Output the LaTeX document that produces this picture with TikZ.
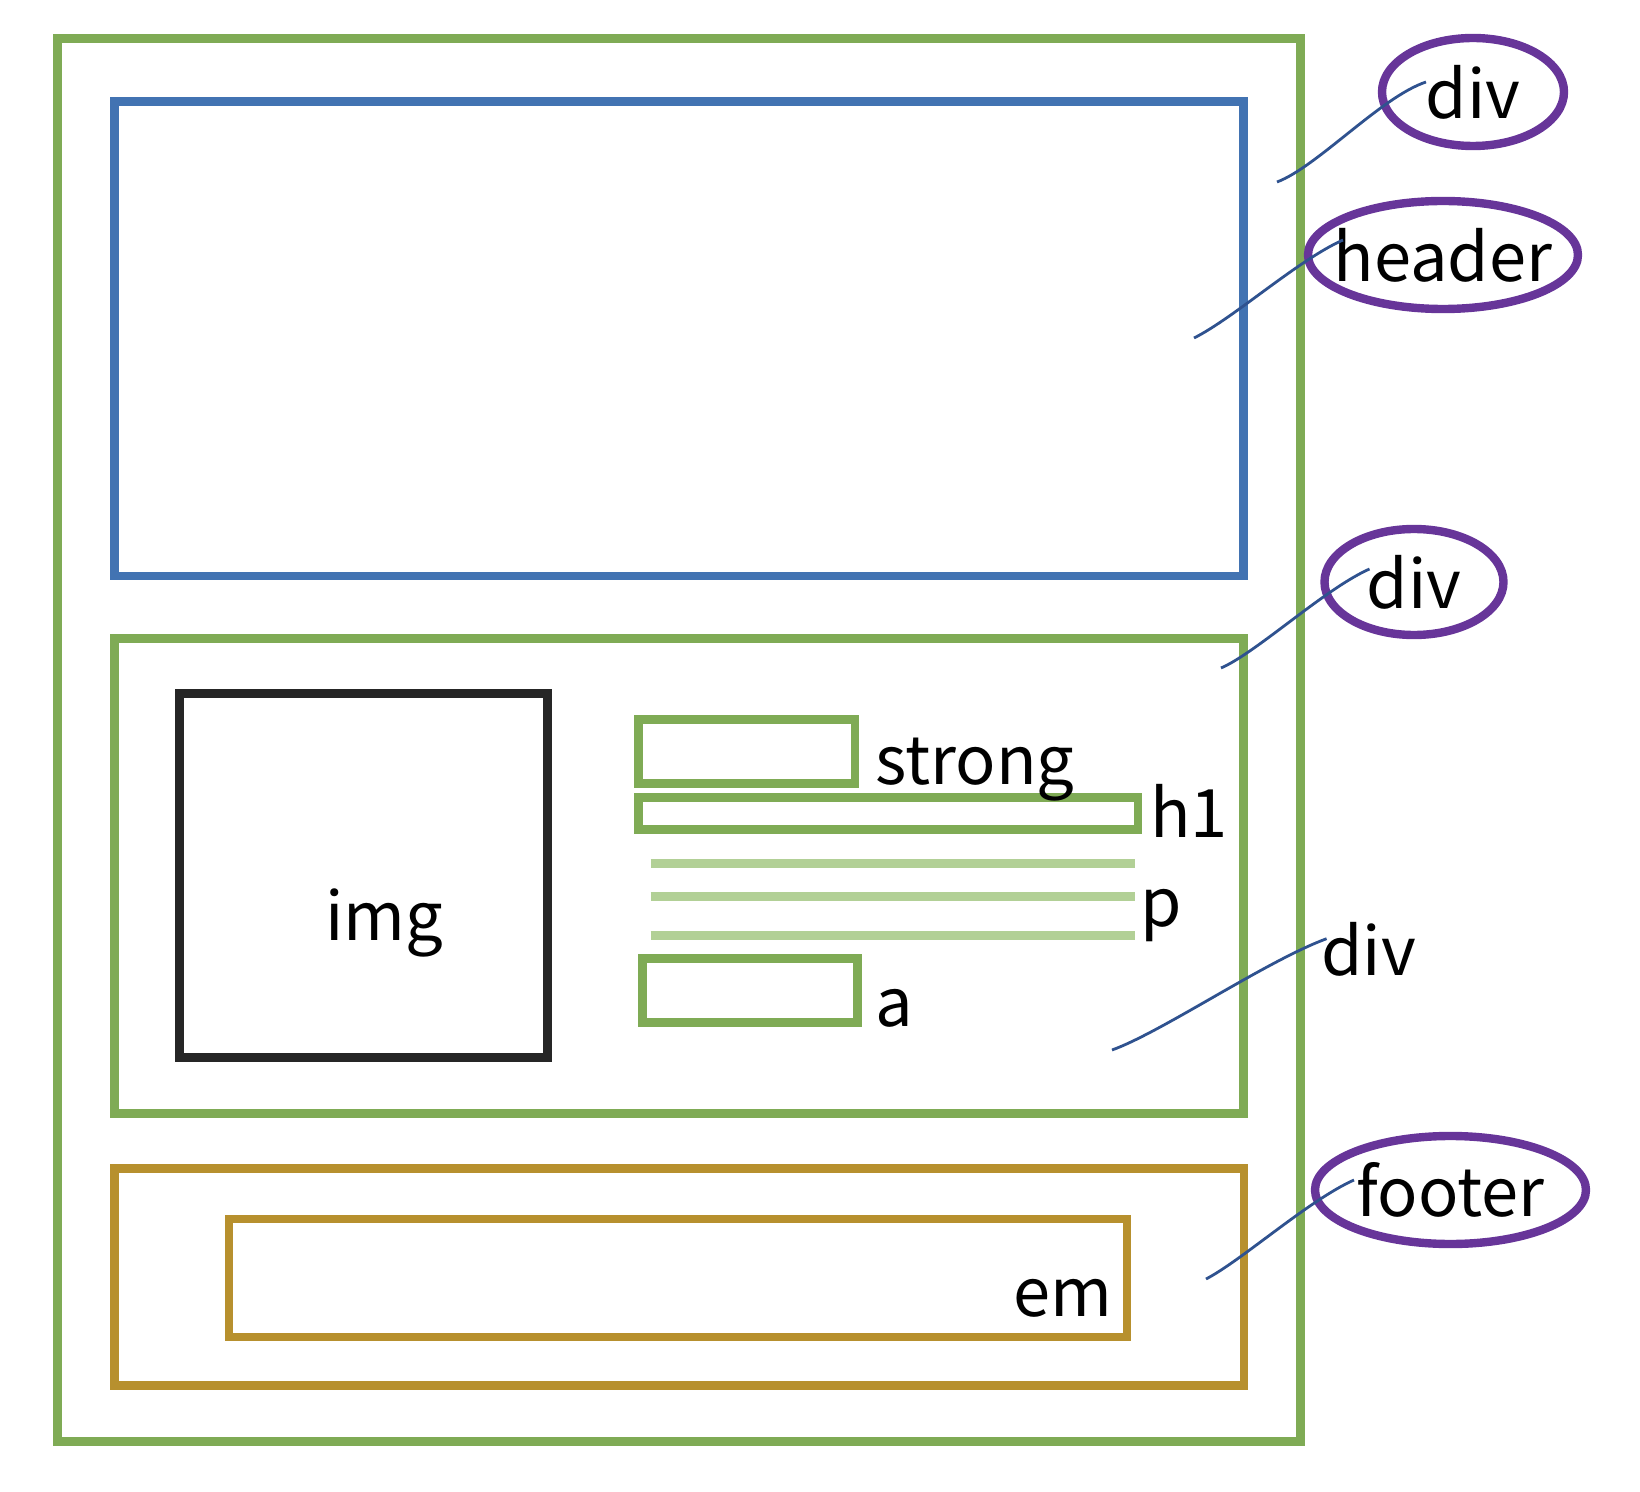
\documentclass[tikz,border=0pt]{standalone}
\usepackage{fontspec}
\setmainfont{Noto Sans CJK SC}
\usetikzlibrary{shapes.geometric}
\definecolor{boxgreen}{HTML}{7FAB55}
\definecolor{boxblue}{HTML}{4273B2}
\definecolor{boxgold}{HTML}{B7902E}
\definecolor{tagpurple}{HTML}{673599}
\definecolor{linegreen}{HTML}{B2D096}
\definecolor{leader}{HTML}{2F528F}
\definecolor{imgblack}{HTML}{262626}
\begin{document}
\begin{tikzpicture}[x=0.5pt,y=-0.5pt,
    box/.style={draw,line width=4.3pt,inner sep=0pt,rectangle},
    tag/.style={draw=tagpurple,line width=4.2pt,ellipse,inner sep=0pt,
      label={[font=\fontsize{33.4}{38}\selectfont,inner sep=0pt]center:#1}},
    lbl/.style={anchor=base west,inner sep=0pt,font=\fontsize{33.4}{38}\selectfont},
    lead/.style={draw=leader,line width=1.4pt}]
  \useasboundingbox (0,0) rectangle (1640,1492);
  \path
    (679.1,740) node[box,draw=boxgreen,minimum width=621.6pt,minimum height=701.5pt] (page){}
    (679.1,338.8) node[box,draw=boxblue,minimum width=564.65pt,minimum height=237.15pt] (header){}
    (679.1,876) node[box,draw=boxgreen,minimum width=564.65pt,minimum height=237.5pt] (content){}
    (679.2,1277) node[box,draw=boxgold,minimum width=564.75pt,minimum height=108.7pt] (footer){}
    (678,1278) node[box,draw=boxgold,minimum width=449pt,minimum height=59pt] (em){}
    (363.3,875.3) node[box,draw=imgblack,minimum width=184pt,minimum height=182pt] (img){}
    (746.8,751.3) node[box,draw=boxgreen,minimum width=108.25pt,minimum height=32pt] (strong){}
    (888.3,813.3) node[box,draw=boxgreen,minimum width=249.75pt,minimum height=16pt] (h1){}
    (750,990.3) node[box,draw=boxgreen,minimum width=107.55pt,minimum height=32pt] (a){};
  \path
    (650.6,863.3) coordinate (p1w) (1134.7,863.3) coordinate (p1e)
    (650.6,896.3) coordinate (p2w) (1134.7,896.3) coordinate (p2e)
    (650.6,935.3) coordinate (p3w) (1134.7,935.3) coordinate (p3e);
  \begin{scope}[linegreen,line width=4.35pt]
    \draw (p1w) -- (p1e);
    \draw (p2w) -- (p2e);
    \draw (p3w) -- (p3e);
  \end{scope}
  \path
    (325,940) node[lbl] (imglbl){img}
    (875,784) node[lbl] (stronglbl){strong}
    (1150,837.5) node[lbl] (h1lbl){h1}
    (1140,926.7) node[lbl] (plbl){p}
    (875,1026.7) node[lbl] (albl){a}
    (1321,975) node[lbl] (contentlbl){div}
    (1013,1316.7) node[lbl] (emlbl){em};
  \path
    (1473,92) node[tag=div,minimum width=91pt,minimum height=54pt] (pagetag){}
    (1443,255) node[tag=header,minimum width=135pt,minimum height=54pt] (headertag){}
    (1414,582) node[tag=div,minimum width=89.5pt,minimum height=53pt] (contenttag){}
    (1450.5,1190) node[tag=footer,minimum width=135.5pt,minimum height=54pt] (footertag){};
  \path
    (1277,182) coordinate (pagefrom) (1426,82) coordinate (pageto)
    (1194,338) coordinate (headerfrom) (1343,240) coordinate (headerto)
    (1221,668) coordinate (contentfrom) (1369.5,569) coordinate (contentto)
    (1112,1050) coordinate (divfrom) (1326.6,938.7) coordinate (divto)
    (1206,1279) coordinate (footerfrom) (1354,1180) coordinate (footerto);
  \begin{scope}[lead]
    \draw (pagefrom) .. controls +(40,-15) and +(-45,15) .. (pageto);
    \draw (headerfrom) .. controls +(40,-20) and +(-45,20) .. (headerto);
    \draw (contentfrom) .. controls +(35,-15) and +(-45,20) .. (contentto);
    \draw (divfrom) .. controls +(50,-18) and +(-60,22) .. (divto);
    \draw (footerfrom) .. controls +(35,-18) and +(-45,20) .. (footerto);
  \end{scope}
\end{tikzpicture}
\end{document}
